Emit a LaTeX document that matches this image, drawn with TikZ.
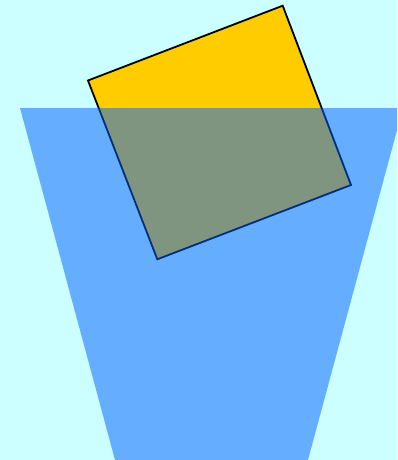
\documentclass[tikz,border=0pt]{standalone}
\begin{document}
\begin{tikzpicture}[x=1pt,y=-1pt,
  bgcol/.style={fill={rgb,255:red,204;green,255;blue,255}},
  card/.style={fill={rgb,255:red,255;green,204;blue,0},draw=black,line width=1.8pt,line join=miter},
  cup/.style={fill={rgb,255:red,0;green,95;blue,255},fill opacity=0.5}]
\path[bgcol,use as bounding box] (0,0) rectangle (397,460);
\clip (0,0) rectangle (397,460);
\draw[card] (88,80.5) -- (282.7,5.7) -- (351,185) -- (157.3,259.3) -- cycle;
\fill[cup] (20,108) -- (403,108) -- (308,460) -- (115,460) -- cycle;
\end{tikzpicture}
\end{document}
